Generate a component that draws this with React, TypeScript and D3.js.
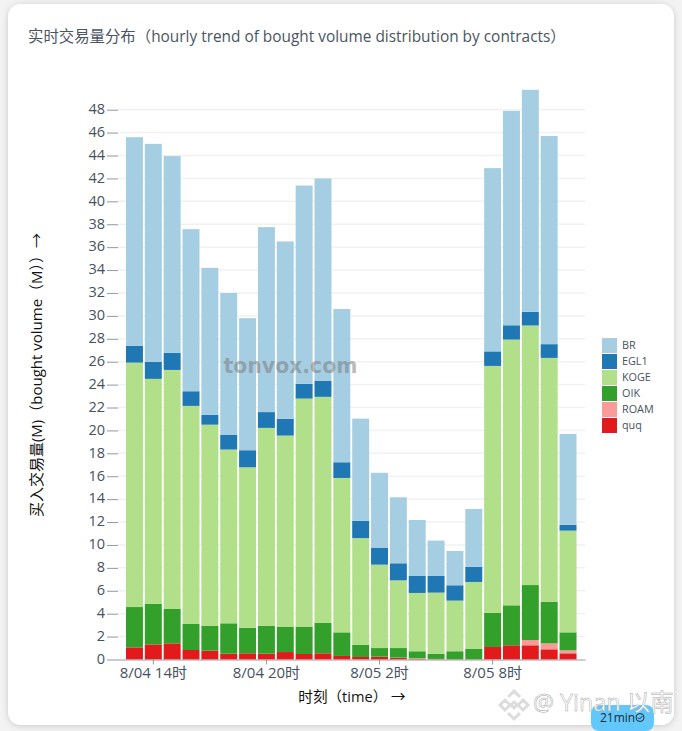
import React, { useEffect, useRef } from 'react';
import * as d3 from 'd3';

const hours = [
  '8/04 13时', '8/04 14时', '8/04 15时', '8/04 16时', '8/04 17时', '8/04 18时', '8/04 19时', '8/04 20时',
  '8/04 21时', '8/04 22时', '8/04 23时', '8/05 0时', '8/05 1时', '8/05 2时', '8/05 3时', '8/05 4时',
  '8/05 5时', '8/05 6时', '8/05 7时', '8/05 8时', '8/05 9时', '8/05 10时', '8/05 11时', '8/05 12时',
];
const xTickLabels = ['8/04 14时', '8/04 20时', '8/05 2时', '8/05 8时'];
const yTicks = d3.range(0, 49, 2);

const quq = [1.06, 1.32, 1.41, 0.83, 0.77, 0.51, 0.54, 0.51, 0.65, 0.48, 0.54, 0.31, 0.22, 0.22, 0.13, 0.05, 0.03, 0.02, 0.02, 1.09, 1.24, 1.24, 0.89, 0.54];
const roam = [0, 0, 0, 0, 0, 0, 0, 0, 0, 0, 0, 0, 0, 0.02, 0.03, 0.05, 0.02, 0, 0, 0, 0, 0.46, 0.52, 0.26];
const oik = [3.52, 3.53, 3.0, 2.27, 2.16, 2.65, 2.24, 2.42, 2.22, 2.36, 2.65, 2.06, 1.05, 0.76, 0.84, 0.62, 0.46, 0.7, 0.9, 2.97, 3.49, 4.8, 3.64, 1.57];
const koge = [21.34, 19.65, 20.87, 19.04, 17.57, 15.17, 14.0, 17.29, 16.68, 19.94, 19.74, 13.48, 9.33, 7.28, 5.91, 5.09, 5.33, 4.42, 5.85, 21.57, 23.2, 22.66, 21.28, 8.88];
const egl1 = [1.46, 1.48, 1.49, 1.28, 0.85, 1.27, 1.49, 1.38, 1.45, 1.28, 1.42, 1.37, 1.5, 1.49, 1.49, 1.48, 1.45, 1.34, 1.33, 1.27, 1.25, 1.19, 1.2, 0.52];
const br = [18.22, 19.04, 17.18, 14.15, 12.84, 12.4, 11.53, 16.15, 15.5, 17.32, 17.65, 13.38, 8.93, 6.53, 5.76, 4.89, 3.09, 3.0, 5.04, 16.0, 18.72, 19.39, 18.17, 7.92];

// legend order, top to bottom
const contracts = ['BR', 'EGL1', 'KOGE', 'OIK', 'ROAM', 'quq'];
const colors = ['#a6cee3', '#1f78b4', '#b2df8a', '#33a02c', '#fb9a99', '#e31a1c'];
const seriesValues: Record<string, number[]> = { BR: br, EGL1: egl1, KOGE: koge, OIK: oik, ROAM: roam, quq };

const sans = '"Open Sans", "Noto Sans CJK SC", sans-serif';

const App: React.FC = () => {
  const svgRef = useRef<SVGSVGElement>(null);

  useEffect(() => {
    if (!svgRef.current) return;
    const svg = d3.select(svgRef.current);
    svg.selectAll('*').remove();

    // card
    const defs = svg.append('defs');
    const blur = defs.append('filter').attr('id', 'cardShadow').attr('x', '-5%').attr('y', '-5%').attr('width', '110%').attr('height', '110%');
    blur.append('feDropShadow').attr('dx', 0).attr('dy', 1).attr('stdDeviation', 3).attr('flood-color', '#000').attr('flood-opacity', 0.18);

    svg.append('rect').attr('width', 682).attr('height', 731).attr('fill', '#f3f3f3');
    svg.append('rect').attr('x', 8).attr('y', 4).attr('width', 666).attr('height', 721).attr('rx', 13)
      .attr('fill', '#fff').attr('filter', 'url(#cardShadow)');

    svg.append('text').attr('x', 28).attr('y', 42).attr('font-size', 15.4).attr('fill', '#4a5563')
      .attr('font-family', sans).text('实时交易量分布（hourly trend of bought volume distribution by contracts）');

    const x = d3.scaleBand<string>().domain(hours).range([117.5, 585]).paddingInner(0.1).paddingOuter(0.45);
    const y = d3.scaleLinear().domain([0, 48]).range([659.5, 109.7]);

    // grid
    svg.append('g').selectAll('line').data(yTicks.slice(1)).enter().append('line')
      .attr('x1', 118).attr('x2', 585)
      .attr('y1', d => y(d)).attr('y2', d => y(d))
      .attr('stroke', '#f1f1f1').attr('stroke-width', 1.5);

    // stacked bars, quq at the bottom
    const rows = hours.map((h, i) => {
      const row: Record<string, any> = { hour: h };
      contracts.forEach(c => { row[c] = seriesValues[c][i]; });
      return row;
    });
    const stack = d3.stack<Record<string, any>>().keys([...contracts].reverse());
    const color = d3.scaleOrdinal<string, string>().domain(contracts).range(colors);

    svg.append('g').selectAll('g').data(stack(rows)).enter().append('g')
      .attr('fill', d => color(d.key))
      .selectAll('rect').data(d => d).enter().append('rect')
      .attr('x', d => x(d.data.hour)!)
      .attr('width', x.bandwidth())
      .attr('y', d => y(d[1]))
      .attr('height', d => Math.max(0, y(d[0]) - y(d[1])));

    // y axis
    const yAxis = svg.append('g').attr('transform', 'translate(118,0)')
      .call(d3.axisLeft(y).tickValues(yTicks).tickSize(11).tickPadding(2).tickFormat(d3.format('d')));
    yAxis.select('.domain').remove();
    yAxis.selectAll('line').attr('stroke', '#8c9aa5');
    yAxis.selectAll('text').attr('font-size', 14.5).attr('font-family', sans).attr('fill', '#46525f').attr('dy', '0.26em');

    // x axis
    const tickHours = hours.filter(h => xTickLabels.includes(h));
    const xAxis = svg.append('g').attr('transform', 'translate(0,659.5)')
      .call(d3.axisBottom(x).tickValues(tickHours).tickSize(5).tickPadding(3).tickSizeOuter(0));
    xAxis.select('.domain').attr('stroke', '#999').attr('stroke-width', 1.2);
    xAxis.selectAll('line').attr('stroke', '#8c9aa5');
    xAxis.selectAll('text').attr('font-size', 15).attr('font-family', sans).attr('fill', '#46525f');

    // axis titles
    svg.append('text').attr('transform', 'translate(42,375) rotate(-90)').attr('text-anchor', 'middle')
      .attr('font-size', 15).attr('font-family', sans).attr('fill', '#111')
      .text('买入交易量(M)（bought volume（M））→');
    svg.append('text').attr('x', 352).attr('y', 702).attr('text-anchor', 'middle')
      .attr('font-size', 14.6).attr('font-family', sans).attr('fill', '#111')
      .text('时刻（time） →');

    // legend
    const legend = svg.append('g').selectAll('g').data(contracts).enter().append('g')
      .attr('transform', (_d, i) => `translate(602,${338 + i * 16})`);
    legend.append('rect').attr('width', 15).attr('height', 15).attr('fill', d => color(d));
    legend.append('text').attr('x', 20).attr('y', 11).attr('font-size', 10.8).attr('font-family', sans)
      .attr('fill', '#46525f').text(d => d);

    // watermarks
    svg.append('text').attr('x', 290.5).attr('y', 373).attr('text-anchor', 'middle').attr('font-size', 20.4)
      .attr('font-weight', 700).attr('font-family', '"DejaVu Sans", sans-serif').attr('fill', '#777').attr('fill-opacity', 0.5)
      .text('tonvox.com');

    svg.append('rect').attr('x', 591).attr('y', 705).attr('width', 63).attr('height', 26).attr('rx', 8).attr('fill', '#62c8fb');
    svg.append('text').attr('x', 600).attr('y', 722).attr('font-size', 12).attr('font-family', sans).attr('fill', '#1b2a38').text('21min');
    svg.append('circle').attr('cx', 640).attr('cy', 717.5).attr('r', 4).attr('fill', 'none').attr('stroke', '#1b2a38').attr('stroke-width', 1);
    svg.append('path').attr('d', 'M638,717.5l1.5,1.5l3,-3').attr('fill', 'none').attr('stroke', '#1b2a38').attr('stroke-width', 1);

    const logo = svg.append('g').attr('transform', 'translate(514,705)').attr('fill', 'none').attr('stroke', '#dcdcdc').attr('stroke-width', 3);
    logo.append('path').attr('d', 'M-6,-8L0,-14L6,-8M-6,8L0,14L6,8M-14,0L-9,-5L-4,0L-9,5ZM4,0L9,-5L14,0L9,5ZM-3,0L0,-3L3,0L0,3Z');
    svg.append('text').attr('x', 533).attr('y', 711).attr('font-size', 23.4).attr('font-family', sans)
      .attr('fill', '#fff').attr('stroke', '#a8a8a8').attr('stroke-width', 0.5).text('@ Yinan 以南');
  }, []);

  return <svg ref={svgRef} width={682} height={731} style={{ position: 'absolute', left: 0, top: 0 }}></svg>;
};

export default App;
